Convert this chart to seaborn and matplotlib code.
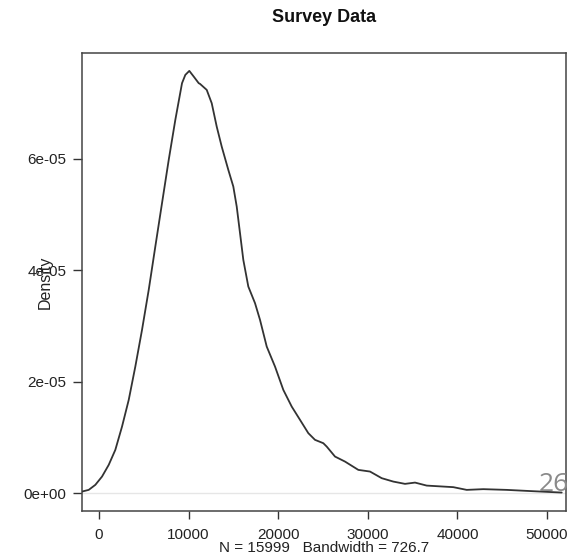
import matplotlib
matplotlib.use("Agg")
import matplotlib.pyplot as plt
import seaborn as sns
import pandas as pd

# Density estimate (income values, density)
income = [-1897, -1150, -413, 335, 1083, 1819, 2567, 3315, 4051, 4799, 5547, 6283,
          7031, 7779, 8516, 9263, 9632, 10078, 10569, 11127, 11272, 12020, 12578,
          13136, 13694, 14431, 14989, 15368, 15737, 16105, 16663, 17411, 17969,
          18717, 19643, 20569, 21507, 22433, 23359, 24107, 25033, 25413, 26339,
          27455, 28940, 30246, 31551, 32846, 34152, 35268, 36574, 39542, 41038,
          42891, 45502, 47734, 50703, 51641]
density = [0.029e-5, 0.059e-5, 0.149e-5, 0.298e-5, 0.508e-5, 0.777e-5, 1.195e-5,
           1.674e-5, 2.272e-5, 2.931e-5, 3.649e-5, 4.426e-5, 5.205e-5, 5.982e-5,
           6.700e-5, 7.358e-5, 7.507e-5, 7.579e-5, 7.477e-5, 7.358e-5, 7.346e-5,
           7.238e-5, 6.999e-5, 6.579e-5, 6.220e-5, 5.802e-5, 5.503e-5, 5.144e-5,
           4.666e-5, 4.187e-5, 3.708e-5, 3.410e-5, 3.110e-5, 2.631e-5, 2.272e-5,
           1.854e-5, 1.554e-5, 1.316e-5, 1.077e-5, 0.957e-5, 0.897e-5, 0.836e-5,
           0.657e-5, 0.567e-5, 0.418e-5, 0.388e-5, 0.269e-5, 0.208e-5, 0.167e-5,
           0.190e-5, 0.136e-5, 0.108e-5, 0.059e-5, 0.072e-5, 0.059e-5, 0.041e-5,
           0.018e-5, 0.011e-5]

x_ticks = [0, 10000, 20000, 30000, 40000, 50000]
x_tick_labels = ["0", "10000", "20000", "30000", "40000", "50000"]
y_ticks = [0, 2e-5, 4e-5, 6e-5]
y_tick_labels = ["0e+00", "2e-05", "4e-05", "6e-05"]

title = "Survey Data"
sub = "N = 15999   Bandwidth = 726.7"
ylab = "Density"
page_no = "26"

sns.set_theme(style="white")
plt.rcParams['font.family'] = ['Liberation Sans', 'DejaVu Sans']

W, H = 577, 555
fig = plt.figure(figsize=(W / 100, H / 100), dpi=100)
ax = fig.add_axes([82 / W, 1 - 511 / H, (566 - 82) / W, (511 - 53) / H])

df = pd.DataFrame({"x": income, "y": density})
ax.axhline(0, color="#e6e6e6", lw=1.0, zorder=1)
sns.lineplot(data=df, x="x", y="y", ax=ax, color="#333333", lw=1.3, sort=False,
             zorder=3)

ax.set_xlim(-1900, 52120)
ax.set_ylim(-3.2e-6, 7.90e-5)

ax.set_xticks(x_ticks)
ax.set_xticklabels(x_tick_labels)
ax.set_yticks(y_ticks)
ax.set_yticklabels(y_tick_labels)
ax.tick_params(axis="both", which="both", direction="out", width=1,
               color="#333333", labelsize=11, labelcolor="#222222",
               bottom=True, left=True)
ax.tick_params(axis="x", length=5.5, pad=6.5)
ax.tick_params(axis="y", length=6.5, pad=4.5)

for s in ax.spines.values():
    s.set_color("#444444")
    s.set_linewidth(1.1)

ax.set_xlabel("")
ax.set_ylabel(ylab, fontsize=11.5, color="#222222")
ax.yaxis.set_label_coords(-0.060, 0.5)

fig.text(324 / W, 1 - 17 / H, title, ha="center", va="center",
         fontsize=13, fontweight="bold", color="#111111")
fig.text(324 / W, 1 - 548 / H, sub, ha="center", va="center",
         fontsize=11, color="#222222")
fig.text(569 / W, 1 - 491 / H, page_no, ha="right", va="baseline",
         fontsize=19, color="#8a8a8a", family=["Open Sans", "DejaVu Sans"])

fig.savefig("out.png", dpi=100)
